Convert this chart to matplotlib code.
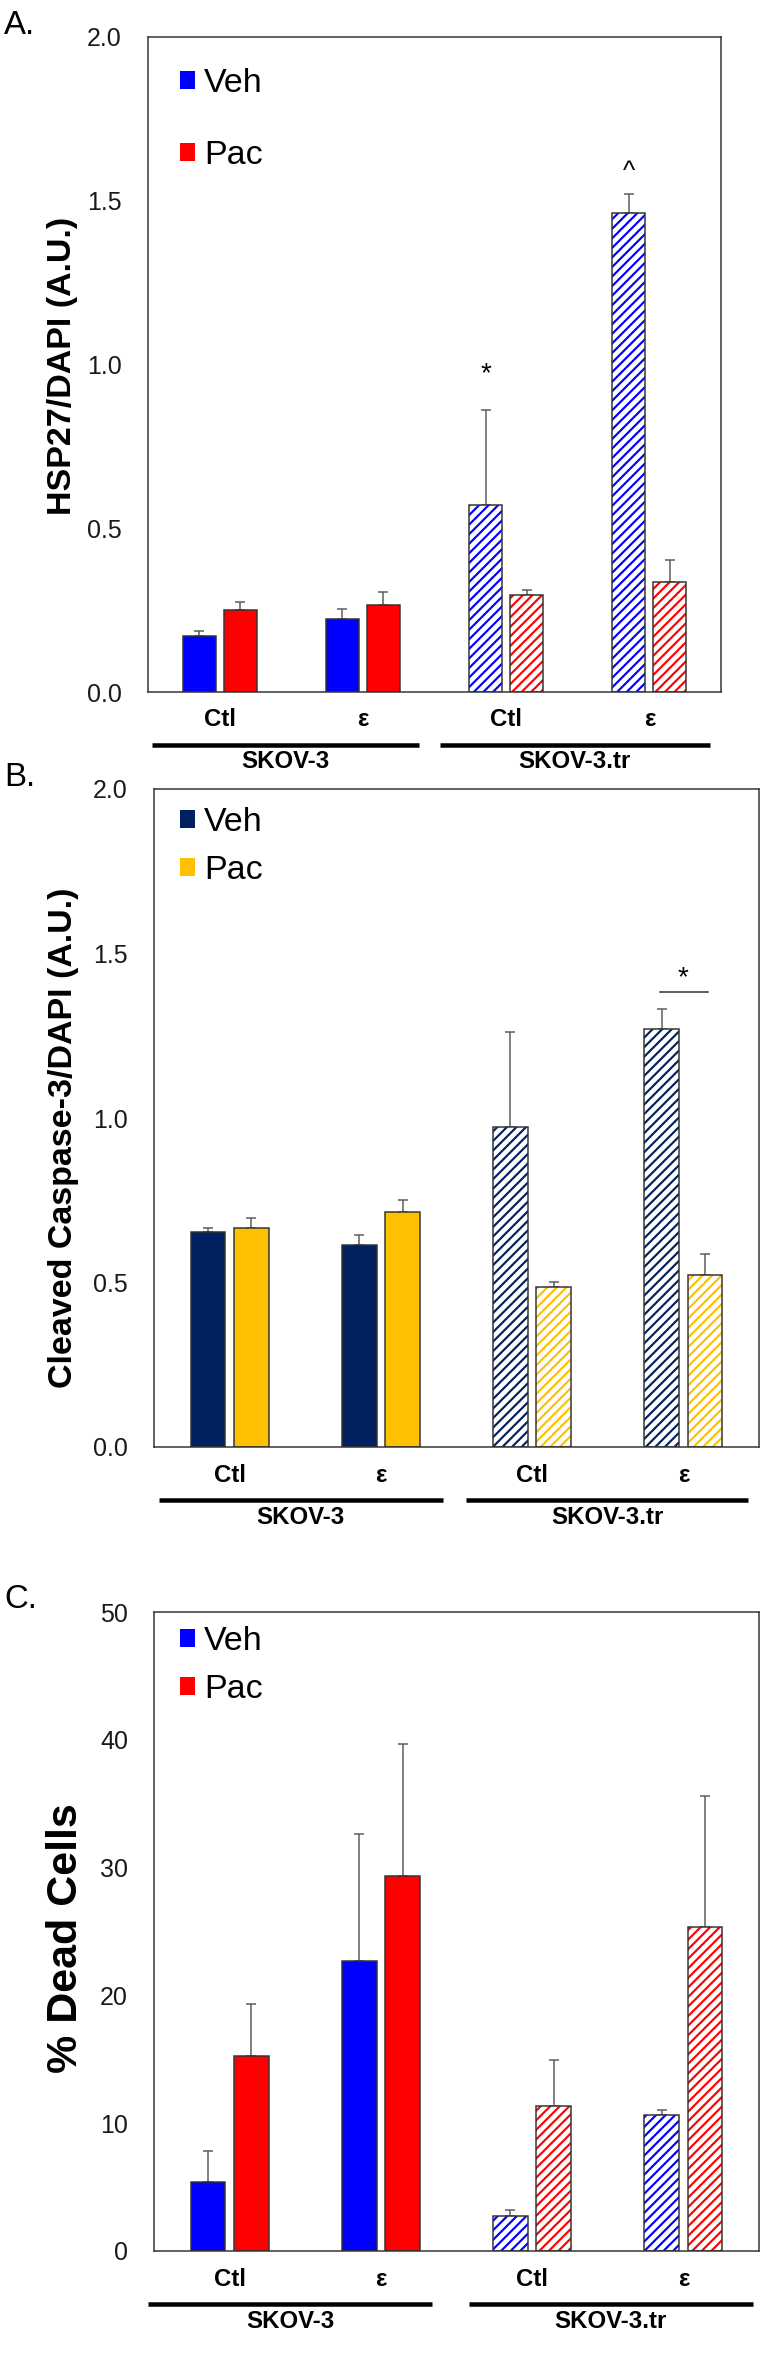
import matplotlib
matplotlib.use("Agg")
import matplotlib.pyplot as plt
from matplotlib.patches import Patch
from matplotlib.transforms import blended_transform_factory

DPI = 86
W, H = 783, 2368

# data
groups = ["Ctl", "\u03b5", "Ctl", "\u03b5"]
cell_lines = ["SKOV-3", "SKOV-3.tr"]
series = ["Veh", "Pac"]
hatched = [False, False, True, True]

a_veh = [0.17, 0.224, 0.57, 1.463]
a_veh_err = [0.015, 0.03, 0.29, 0.058]
a_pac = [0.25, 0.266, 0.296, 0.337]
a_pac_err = [0.025, 0.038, 0.015, 0.066]

b_veh = [0.652, 0.614, 0.974, 1.27]
b_veh_err = [0.015, 0.03, 0.286, 0.06]
b_pac = [0.667, 0.714, 0.485, 0.523]
b_pac_err = [0.028, 0.037, 0.017, 0.065]

c_veh = [5.36, 22.7, 2.7, 10.65]
c_veh_err = [2.5, 9.95, 0.5, 0.4]
c_pac = [15.23, 29.37, 11.35, 25.37]
c_pac_err = [4.1, 10.3, 3.56, 10.2]

plt.rcParams["font.family"] = ["Liberation Sans", "DejaVu Sans"]
plt.rcParams["hatch.linewidth"] = 1.8


def pt(px):
    return px * 72.0 / DPI


fig = plt.figure(figsize=(W / DPI, H / DPI), dpi=DPI)


def panel(letter, box, ylim, yticks, fmt, ylabel, ylab_x, ylab_y, ylab_size,
          veh, veh_err, pac, pac_err, colors, leg_y, leg_gap, line_ext):
    left, top, right, bottom = box
    ax = fig.add_axes([left / W, 1 - bottom / H, (right - left) / W, (bottom - top) / H])
    x = [i + 0.5 for i in range(4)]
    bw, off = 0.23, 0.143
    for k, (vals, errs) in enumerate([(veh, veh_err), (pac, pac_err)]):
        xs = [xi + (-off if k == 0 else off) for xi in x]
        ax.errorbar(xs, vals, yerr=[[0] * 4, errs], fmt="none", ecolor="#5a5a5a",
                    elinewidth=pt(1.5), capsize=pt(5), capthick=pt(1.5), zorder=1)
        for xi, v, h in zip(xs, vals, hatched):
            if h:
                ax.bar(xi, v, bw, color="white", edgecolor=colors[k], hatch="///",
                       linewidth=0, zorder=2)
                ax.bar(xi, v, bw, fill=False, edgecolor="#333333", linewidth=pt(1.5), zorder=3)
            else:
                ax.bar(xi, v, bw, color=colors[k], edgecolor="#333333",
                       linewidth=pt(1.5), zorder=2)
    ax.set_xlim(0, 4)
    ax.set_ylim(*ylim)
    ax.set_yticks(yticks)
    ax.set_yticklabels([fmt.format(t) for t in yticks])
    ax.set_xticks([])
    ax.tick_params(axis="y", length=0, pad=pt(26), labelsize=pt(25), labelcolor="#1a1a1a")
    for s in ax.spines.values():
        s.set_color("#333333")
        s.set_linewidth(pt(1.5))

    fig.text(ylab_x / W, 1 - ylab_y / H, ylabel, rotation=90, ha="center", va="center",
             fontsize=pt(ylab_size), fontweight="bold")
    fig.text(4 / W, 1 - (top - 12) / H, letter, ha="left", va="center", fontsize=pt(33))

    tr = blended_transform_factory(ax.transData, fig.transFigure)
    for xi, g in zip(x, groups):
        ax.text(xi, 1 - (bottom + 28) / H, g, transform=tr, ha="center", va="center",
                fontsize=pt(24), fontweight="bold")
    for (x0, x1), name in zip(line_ext, cell_lines):
        ax.plot([x0, x1], [1 - (bottom + 53) / H] * 2, transform=tr, color="black",
                linewidth=pt(4.5), clip_on=False, solid_capstyle="butt")
        ax.text((x0 + x1) / 2, 1 - (bottom + 70) / H, name, transform=tr, ha="center",
                va="center", fontsize=pt(24), fontweight="bold")

    handles = [Patch(facecolor=c, edgecolor="none") for c in colors]
    ax.legend(handles, series, loc="upper left", frameon=False,
              bbox_to_anchor=((180 - left) / (right - left), 1 - (leg_y - 24 - top) / (bottom - top)),
              borderaxespad=0, borderpad=0, fontsize=pt(34), handlelength=0.45,
              handleheight=0.45, handletextpad=0.25, labelspacing=leg_gap)
    return ax


blue, red = "#0000ff", "#ff0000"
navy, gold = "#002060", "#ffc000"

ax_a = panel("A.", (148, 37, 721, 692), (0, 2.0), [0, 0.5, 1.0, 1.5, 2.0], "{:.1f}",
             "HSP27/DAPI (A.U.)", 63, 366, 34, a_veh, a_veh_err, a_pac, a_pac_err,
             [blue, red], 92, 1.2, [(0.03, 1.895), (2.04, 3.92)])
ax_a.text(2.357, 0.93, "*", ha="center", va="bottom", fontsize=pt(28))
ax_a.text(3.357, 1.55, "^", ha="center", va="bottom", fontsize=pt(26))

ax_b = panel("B.", (154, 789, 759, 1447), (0, 2.0), [0, 0.5, 1.0, 1.5, 2.0], "{:.1f}",
             "Cleaved Caspase-3/DAPI (A.U.)", 64, 1138, 34, b_veh, b_veh_err, b_pac, b_pac_err,
             [navy, gold], 831, 0.5, [(0.03, 1.91), (2.06, 3.93)])
ax_b.plot([3.345, 3.66], [1.383, 1.383], color="#333333", linewidth=pt(1.5))
ax_b.text(3.5, 1.385, "*", ha="center", va="bottom", fontsize=pt(28))

ax_c = panel("C.", (154, 1612, 759, 2251), (0, 50), [0, 10, 20, 30, 40, 50], "{:.0f}",
             "% Dead Cells", 66, 1938, 43, c_veh, c_veh_err, c_pac, c_pac_err,
             [blue, red], 1650, 0.5, [(-0.04, 1.84), (2.08, 3.96)])

fig.savefig("out.png", dpi=DPI, facecolor="white")
